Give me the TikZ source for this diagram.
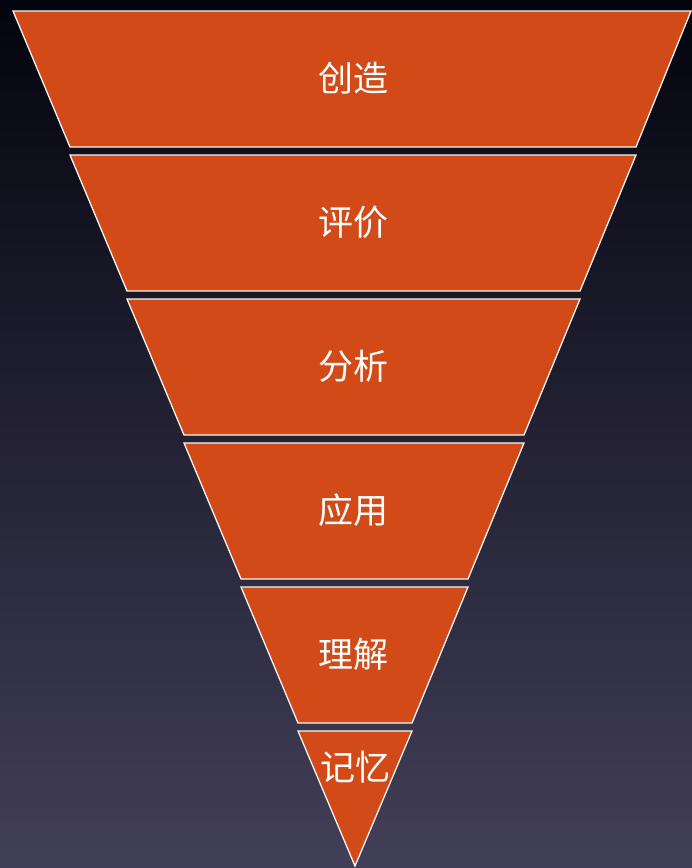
\documentclass[tikz,border=0pt]{standalone}
\usepackage{fontspec}
\newfontfamily\cjk{Noto Sans CJK SC}
\definecolor{bgtop}{HTML}{04040E}
\definecolor{bgbot}{HTML}{423F58}
\definecolor{segfill}{HTML}{D24A17}
\begin{document}
\begin{tikzpicture}[x=1pt,y=-1pt,
  segbox/.style={fill=segfill, draw=white!92!gray, line width=1.3pt, line join=miter},
  lbl/.style={text=white, font=\cjk\fontsize{35}{37}\selectfont, inner sep=0pt, anchor=center}]
\shade[top color=bgtop, bottom color=bgbot] (0,0) rectangle (692,868);
\useasboundingbox (0,0) rectangle (692,868);
% segments
\draw[segbox] (13,11) -- (691,11) -- (636,147) -- (70,147) -- cycle;
\draw[segbox] (70,155) -- (636,155) -- (580,291) -- (127,291) -- cycle;
\draw[segbox] (127,299) -- (580,299) -- (524,435) -- (184,435) -- cycle;
\draw[segbox] (184,443) -- (524,443) -- (468,579) -- (241,579) -- cycle;
\draw[segbox] (241,587) -- (468,587) -- (412,723) -- (298,723) -- cycle;
\draw[segbox] (298,731) -- (412,731) -- (355,866) -- cycle;
% labels
\node[lbl] (l1) at (353,78) {创造};
\node[lbl] (l2) at (353,222) {评价};
\node[lbl] (l3) at (353,366) {分析};
\node[lbl] (l4) at (353,510) {应用};
\node[lbl] (l5) at (353,654) {理解};
\node[lbl] (l6) at (355,767) {记忆};
\end{tikzpicture}
\end{document}
